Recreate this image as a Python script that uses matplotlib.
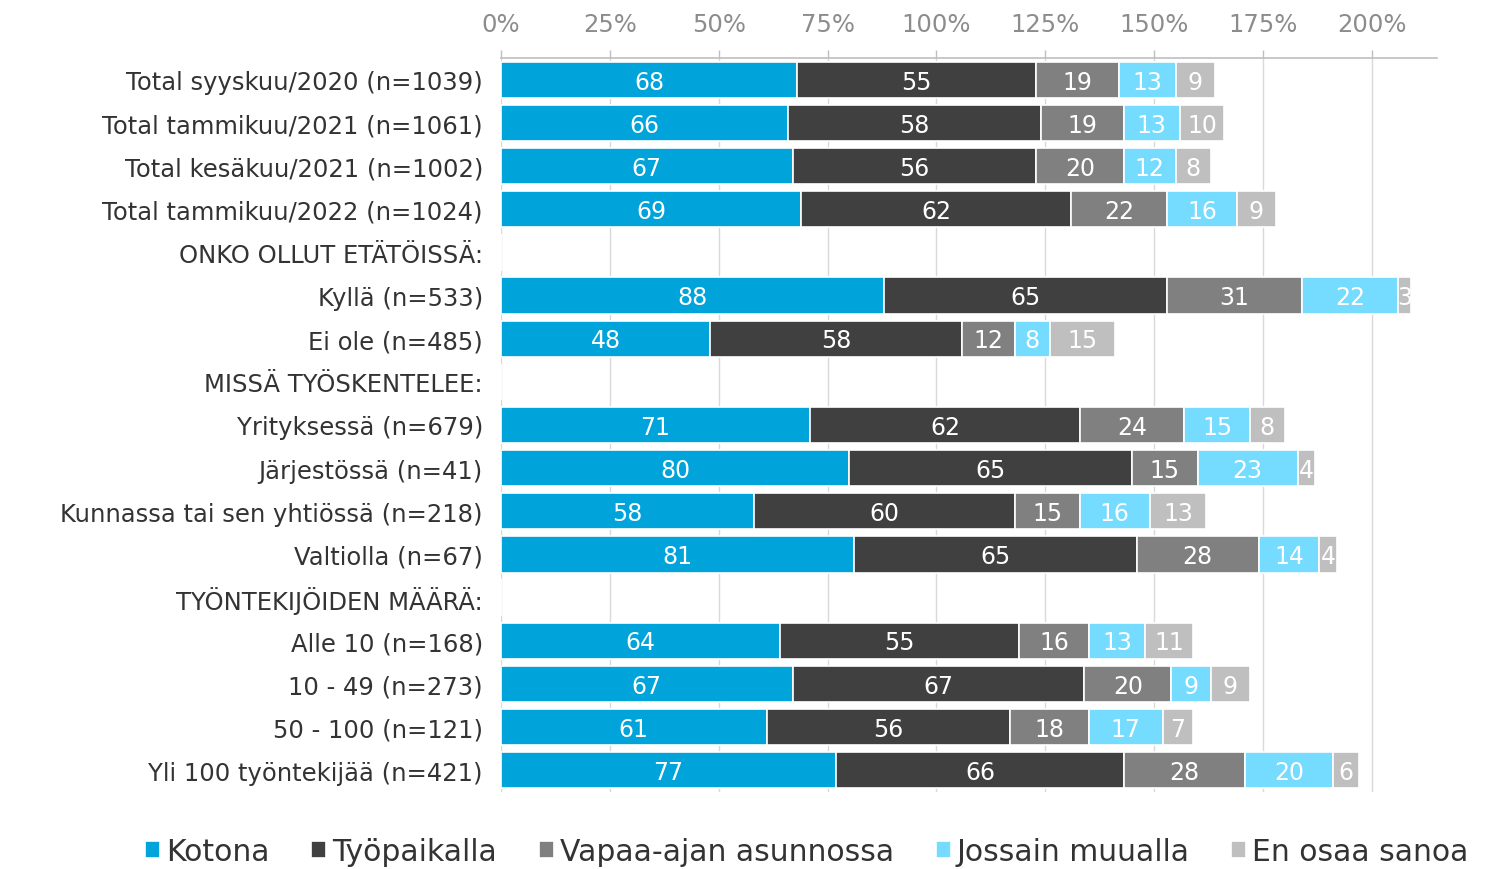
import numpy as np
import matplotlib
matplotlib.use("Agg")
import matplotlib.pyplot as plt
from matplotlib.ticker import FuncFormatter

categories = [
    "Total syyskuu/2020 (n=1039)",
    "Total tammikuu/2021 (n=1061)",
    "Total kesäkuu/2021 (n=1002)",
    "Total tammikuu/2022 (n=1024)",
    "ONKO OLLUT ETÄTÖISSÄ:",
    "Kyllä (n=533)",
    "Ei ole (n=485)",
    "MISSÄ TYÖSKENTELEE:",
    "Yrityksessä (n=679)",
    "Järjestössä (n=41)",
    "Kunnassa tai sen yhtiössä (n=218)",
    "Valtiolla (n=67)",
    "TYÖNTEKIJÖIDEN MÄÄRÄ:",
    "Alle 10 (n=168)",
    "10 - 49 (n=273)",
    "50 - 100 (n=121)",
    "Yli 100 työntekijää (n=421)",
]

series_names = ["Kotona", "Työpaikalla", "Vapaa-ajan asunnossa", "Jossain muualla", "En osaa sanoa"]

kotona      = [68, 66, 67, 69, None, 88, 48, None, 71, 80, 58, 81, None, 64, 67, 61, 77]
tyopaikalla = [55, 58, 56, 62, None, 65, 58, None, 62, 65, 60, 65, None, 55, 67, 56, 66]
vapaa_ajan  = [19, 19, 20, 22, None, 31, 12, None, 24, 15, 15, 28, None, 16, 20, 18, 28]
jossain     = [13, 13, 12, 16, None, 22, 8, None, 15, 23, 16, 14, None, 13, 9, 17, 20]
en_osaa     = [9, 10, 8, 9, None, 3, 15, None, 8, 4, 13, 4, None, 11, 9, 7, 6]

x_ticks = [0, 25, 50, 75, 100, 125, 150, 175, 200]

colors = ["#00A3DA", "#404040", "#808080", "#75DBFF", "#BFBFBF"]

series = [kotona, tyopaikalla, vapaa_ajan, jossain, en_osaa]

fig = plt.figure(figsize=(14.85, 8.7), dpi=100)
ax = fig.add_axes([501 / 1485, 1 - 792.6 / 870, (1437 - 501) / 1485, (792.6 - 59.4) / 870])

y = np.arange(len(categories))
left = np.zeros(len(categories))
handles = []
for name, vals, col in zip(series_names, series, colors):
    v = np.array([np.nan if a is None else a for a in vals], dtype=float)
    vv = np.nan_to_num(v)
    bars = ax.barh(y, vv, left=left, height=0.84, color=col, edgecolor="white",
                   linewidth=1.2, label=name, zorder=3)
    handles.append(bars)
    for yi, (val, l) in enumerate(zip(v, left)):
        if not np.isnan(val):
            ax.text(l + val / 2, yi + 0.04, f"{int(val)}", ha="center", va="center",
                    color="white", fontsize=17, zorder=4)
    left = left + vv

ax.set_ylim(len(categories) - 0.5, -0.5)
ax.set_xlim(0, 215)
ax.set_yticks(y)
ax.set_yticklabels(categories, fontsize=17.5, color="#333333")
ax.tick_params(axis="y", length=0, pad=13)

ax.xaxis.tick_top()
ax.set_xticks(x_ticks)
ax.xaxis.set_major_formatter(FuncFormatter(lambda v, p: f"{int(v)}%"))
ax.tick_params(axis="x", labelsize=17.5, labelcolor="#8C8C8C", color="#BFBFBF",
               length=6, width=1, pad=10)
ax.grid(axis="x", color="#D9D9D9", linewidth=1, zorder=0)
for s in ["left", "right", "bottom"]:
    ax.spines[s].set_visible(False)
ax.spines["top"].set_color("#BFBFBF")
ax.spines["top"].set_linewidth(1.2)

leg = fig.legend(handles=handles, labels=series_names, loc="center", ncol=5,
                 bbox_to_anchor=(807 / 1485, 1 - 853 / 870), frameon=False,
                 fontsize=21.5, handlelength=0.5, handleheight=0.5, handletextpad=0.2,
                 columnspacing=1.4, labelcolor="#333333")

fig.savefig("out.png", dpi=100)
